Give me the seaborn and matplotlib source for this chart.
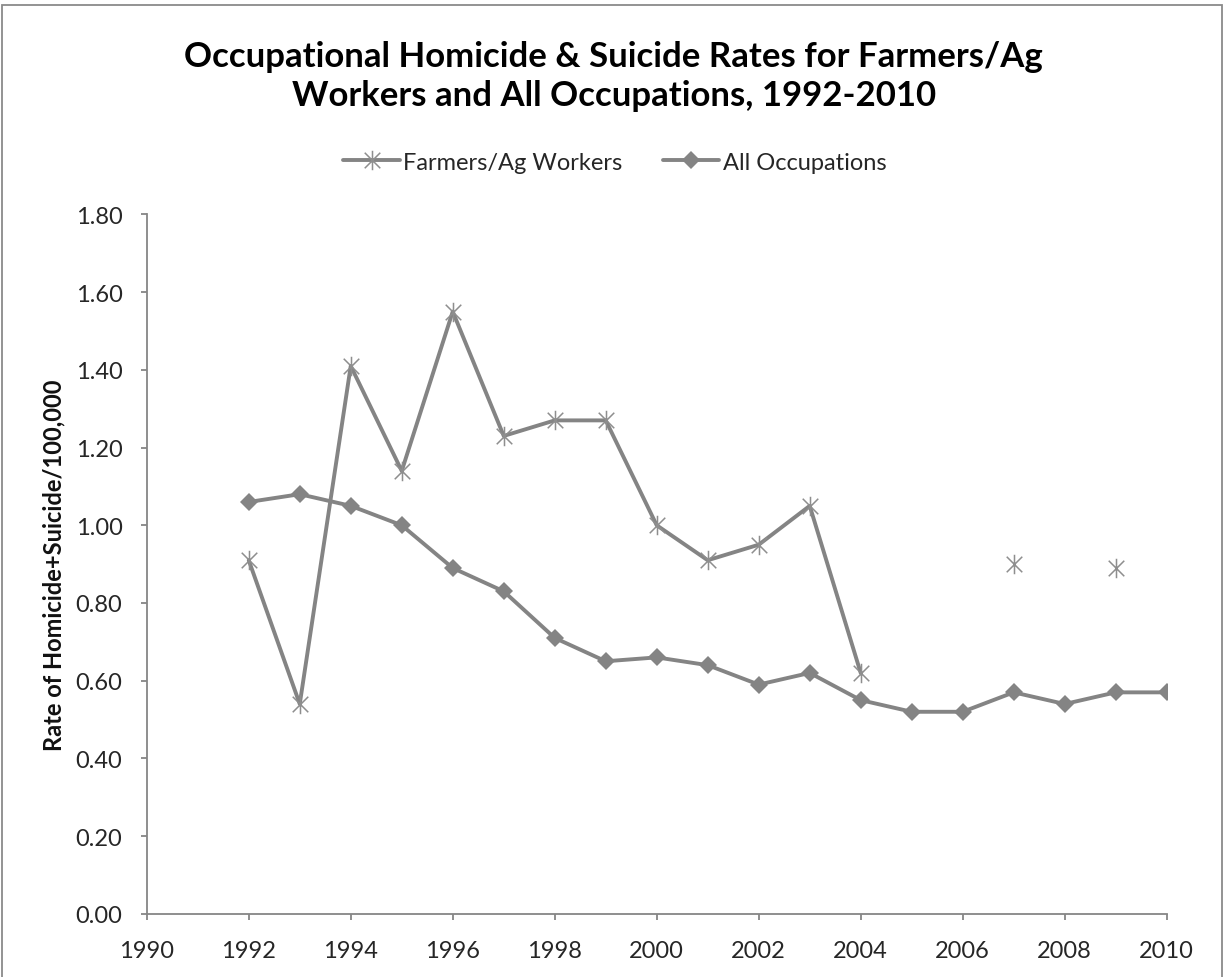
import numpy as np
import pandas as pd
import matplotlib
matplotlib.use("Agg")
import matplotlib.pyplot as plt
from matplotlib.path import Path
from matplotlib.lines import Line2D
from matplotlib.patches import Rectangle
from matplotlib.ticker import FormatStrFormatter
import seaborn as sns

# ---- data -------------------------------------------------------------
years = list(range(1992, 2011))
farmers = [0.91, 0.54, 1.41, 1.14, 1.55, 1.23, 1.27, 1.27, 1.00, 0.91,
           0.95, 1.05, 0.62, np.nan, np.nan, 0.90, np.nan, 0.89, np.nan]
all_occ = [1.06, 1.08, 1.05, 1.00, 0.89, 0.83, 0.71, 0.65, 0.66, 0.64,
           0.59, 0.62, 0.55, 0.52, 0.52, 0.57, 0.54, 0.57, 0.57]
series_names = ["Farmers/Ag Workers", "All Occupations"]
title_lines = ["Occupational Homicide & Suicide Rates for Farmers/Ag",
               "Workers and All Occupations, 1992-2010"]
y_label = "Rate of Homicide+Suicide/100,000"
x_ticks = list(range(1990, 2011, 2))
y_ticks = [0.0, 0.2, 0.4, 0.6, 0.8, 1.0, 1.2, 1.4, 1.6, 1.8]

# ---- styling ----------------------------------------------------------
sns.set_theme(style="white")
plt.rcParams["font.family"] = ["Lato", "DejaVu Sans"]

LINE = "#848484"
AXIS = "#868686"
TEXT = "#262626"

# six-armed asterisk: an X plus a vertical bar
star = Path([(-1, -1), (1, 1), (-1, 1), (1, -1), (0, -1.25), (0, 1.25)],
            [Path.MOVETO, Path.LINETO, Path.MOVETO, Path.LINETO,
             Path.MOVETO, Path.LINETO])

# contiguous runs of non-missing values get their own unit id so gaps stay open
df_f = pd.DataFrame({"year": years, "rate": farmers})
df_f["unit"] = df_f["rate"].isna().cumsum()
df_f = df_f.dropna()
df_a = pd.DataFrame({"year": years, "rate": all_occ, "unit": 0})

fig = plt.figure(figsize=(12.25, 9.78), dpi=100)
ax = fig.add_axes([0.1198, 0.0646, 0.8326, 0.7151])

sns.lineplot(data=df_a, x="year", y="rate", units="unit", estimator=None,
             ax=ax, color=LINE, linewidth=2.8, marker="D", markersize=9,
             markeredgewidth=0, markerfacecolor=LINE, legend=False)
sns.lineplot(data=df_f, x="year", y="rate", units="unit", estimator=None,
             ax=ax, color=LINE, linewidth=2.8, marker=star, markersize=14,
             markeredgewidth=1.1, markeredgecolor="#8e8e8e", legend=False)

ax.set_xlim(1990, 2010)
ax.set_ylim(0, 1.8)
ax.set_xticks(x_ticks)
ax.set_yticks(y_ticks)
ax.yaxis.set_major_formatter(FormatStrFormatter("%.2f"))
ax.set_xlabel("")
ax.set_ylabel(y_label, fontsize=17, fontweight="bold", color="#111111")
ax.yaxis.set_label_coords(-0.080, 0.5)

for side in ("top", "right"):
    ax.spines[side].set_visible(False)
for side in ("left", "bottom"):
    ax.spines[side].set_color(AXIS)
    ax.spines[side].set_linewidth(1.3)
ax.tick_params(axis="both", which="major", direction="out", length=4.5,
               width=1.3, color=AXIS, labelsize=17, labelcolor=TEXT)
ax.tick_params(axis="y", pad=13)
ax.tick_params(axis="x", pad=14)
ax.tick_params(left=True, bottom=True)
ax.grid(False)

# title
fig.text(0.501, 1 - 57 / 978, title_lines[0], ha="center", va="center",
         fontsize=25, fontweight="bold", color="#000000")
fig.text(0.501, 1 - 96 / 978, title_lines[1], ha="center", va="center",
         fontsize=25, fontweight="bold", color="#000000")

# legend
handles = [
    Line2D([], [], color=LINE, linewidth=2.8, marker=star, markersize=14,
           markeredgewidth=1.1, markeredgecolor="#8e8e8e"),
    Line2D([], [], color=LINE, linewidth=2.8, marker="D", markersize=9,
           markeredgewidth=0, markerfacecolor=LINE),
]
fig.legend(handles, series_names, loc="center", bbox_to_anchor=(0.502, 1 - 163 / 978),
           ncol=2, frameon=False, fontsize=17, handlelength=2.4,
           handletextpad=0.15, columnspacing=1.7, labelcolor=TEXT)

# chart-area border
fig.add_artist(Rectangle((2 / 1225, -0.01), 1220 / 1225, 1 - 6 / 978 + 0.01,
                         transform=fig.transFigure, fill=False,
                         edgecolor="#8a8a8a", linewidth=1.3))

fig.savefig("out.png", dpi=100, facecolor="white")
